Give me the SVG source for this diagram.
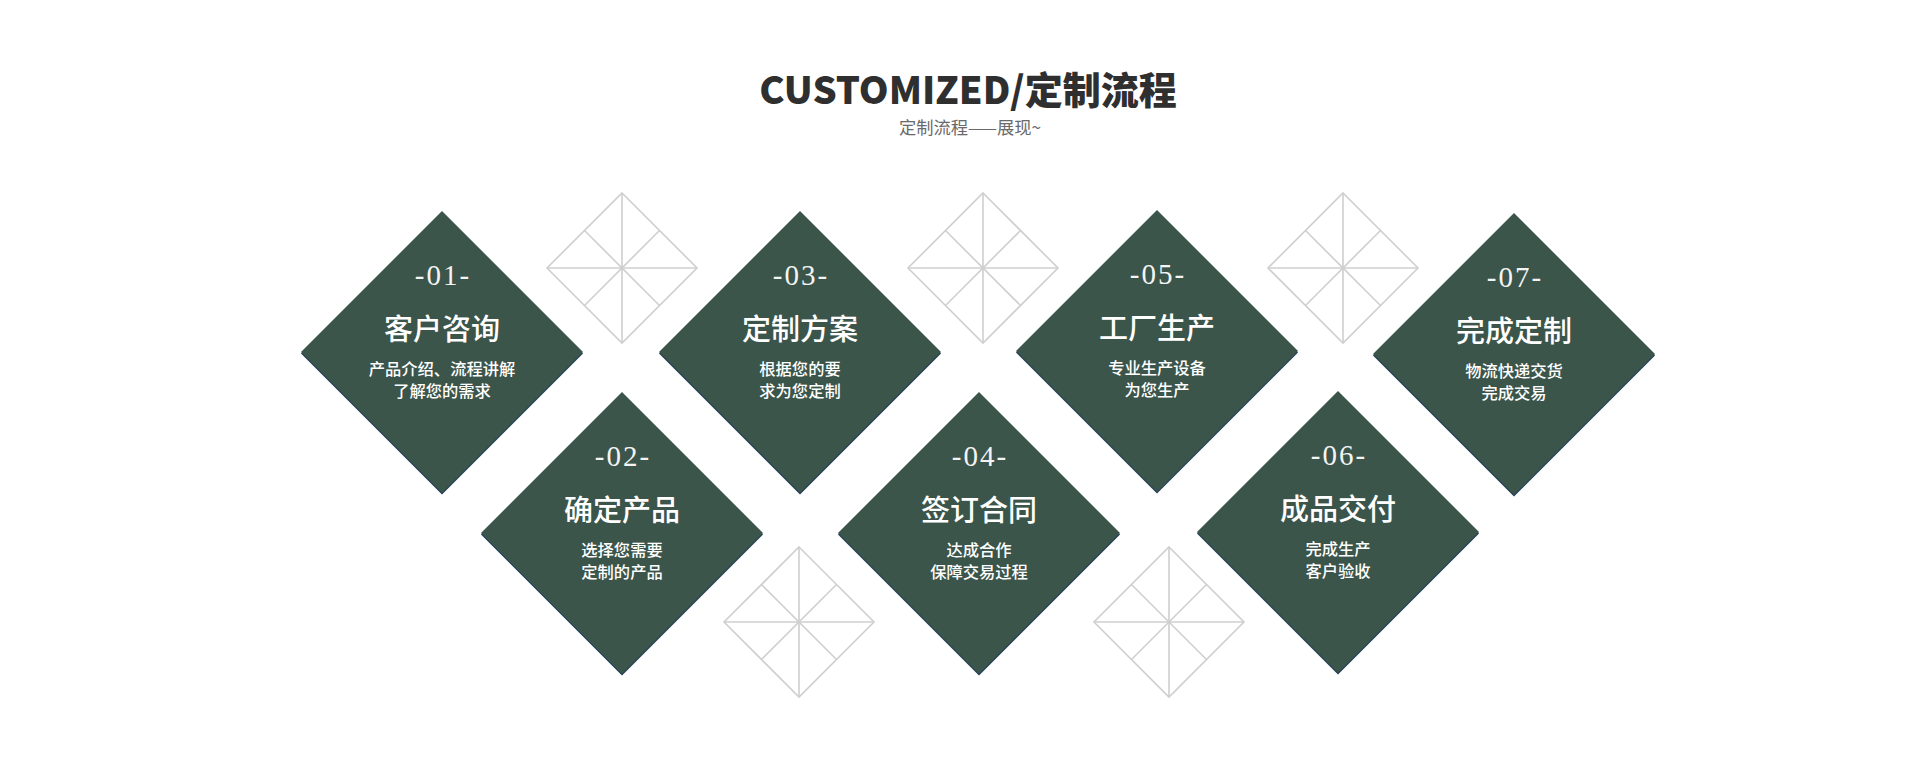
<svg xmlns="http://www.w3.org/2000/svg" xmlns:xlink="http://www.w3.org/1999/xlink" width="1920" height="771" viewBox="0 0 1920 771">
<style>
.bg{fill:#ffffff}
.dia{fill:#3b554b}
.sh{fill:#1d3a55}
.ol{fill:none;stroke:#cfcfcf;stroke-width:1.6}
.num{font-family:"Liberation Serif","DejaVu Serif",serif;font-size:29px;fill:#f4f4f4;text-anchor:middle;letter-spacing:2px}
.ttl{font-family:"Noto Sans CJK SC","Noto Sans",sans-serif;font-size:29px;font-weight:500;fill:#ffffff;text-anchor:middle}
.sub{font-family:"Noto Sans CJK SC","Noto Sans",sans-serif;font-size:16.3px;font-weight:500;fill:#ffffff;text-anchor:middle}
.h1{font-family:"Noto Sans CJK SC","Noto Sans",sans-serif;font-size:38px;font-weight:900;fill:#2f2f2f;text-anchor:middle}
.h2{font-family:"Noto Sans CJK SC","Noto Sans",sans-serif;font-size:17.3px;fill:#6a6a6a;text-anchor:middle}
</style>
<defs>
<polygon id="d" points="0,-141 141,0 0,141 -141,0"/>
<g id="o">
<polygon class="ol" points="0,-75 75,0 0,75 -75,0"/>
<line class="ol" x1="0" y1="-75" x2="0" y2="75"/>
<line class="ol" x1="-75" y1="0" x2="75" y2="0"/>
<line class="ol" x1="-37.5" y1="-37.5" x2="37.5" y2="37.5"/>
<line class="ol" x1="37.5" y1="-37.5" x2="-37.5" y2="37.5"/>
</g>
</defs>
<rect class="bg" x="0" y="0" width="1920" height="771"/>
<g id="header">
<text class="h1" x="968" y="104">CUSTOMIZED/定制流程</text>
<text class="h2" x="970" y="134">定制流程——展现~</text>
</g>
<g id="decorations">
<use xlink:href="#o" href="#o" transform="translate(622,268)"/>
<use xlink:href="#o" href="#o" transform="translate(983,268)"/>
<use xlink:href="#o" href="#o" transform="translate(1343,268)"/>
<use xlink:href="#o" href="#o" transform="translate(799,622)"/>
<use xlink:href="#o" href="#o" transform="translate(1169,622)"/>
</g>
<g id="connectors"></g>
<g id="step1" transform="translate(442,352)">
<use xlink:href="#d" href="#d" class="sh" transform="translate(0,1.5)"/>
<use xlink:href="#d" href="#d" class="dia"/>
<text class="num" x="1" y="-67">-01-</text>
<text class="ttl" x="0" y="-12">客户咨询</text>
<text class="sub" x="0" y="23">产品介绍、流程讲解</text>
<text class="sub" x="0" y="45">了解您的需求</text>
</g>
<g id="step2" transform="translate(622,533)">
<use xlink:href="#d" href="#d" class="sh" transform="translate(0,1.5)"/>
<use xlink:href="#d" href="#d" class="dia"/>
<text class="num" x="1" y="-67">-02-</text>
<text class="ttl" x="0" y="-12">确定产品</text>
<text class="sub" x="0" y="23">选择您需要</text>
<text class="sub" x="0" y="45">定制的产品</text>
</g>
<g id="step3" transform="translate(800,352)">
<use xlink:href="#d" href="#d" class="sh" transform="translate(0,1.5)"/>
<use xlink:href="#d" href="#d" class="dia"/>
<text class="num" x="1" y="-67">-03-</text>
<text class="ttl" x="0" y="-12">定制方案</text>
<text class="sub" x="0" y="23">根据您的要</text>
<text class="sub" x="0" y="45">求为您定制</text>
</g>
<g id="step4" transform="translate(979,533)">
<use xlink:href="#d" href="#d" class="sh" transform="translate(0,1.5)"/>
<use xlink:href="#d" href="#d" class="dia"/>
<text class="num" x="1" y="-67">-04-</text>
<text class="ttl" x="0" y="-12">签订合同</text>
<text class="sub" x="0" y="23">达成合作</text>
<text class="sub" x="0" y="45">保障交易过程</text>
</g>
<g id="step5" transform="translate(1157,351)">
<use xlink:href="#d" href="#d" class="sh" transform="translate(0,1.5)"/>
<use xlink:href="#d" href="#d" class="dia"/>
<text class="num" x="1" y="-67">-05-</text>
<text class="ttl" x="0" y="-12">工厂生产</text>
<text class="sub" x="0" y="23">专业生产设备</text>
<text class="sub" x="0" y="45">为您生产</text>
</g>
<g id="step6" transform="translate(1338,532)">
<use xlink:href="#d" href="#d" class="sh" transform="translate(0,1.5)"/>
<use xlink:href="#d" href="#d" class="dia"/>
<text class="num" x="1" y="-67">-06-</text>
<text class="ttl" x="0" y="-12">成品交付</text>
<text class="sub" x="0" y="23">完成生产</text>
<text class="sub" x="0" y="45">客户验收</text>
</g>
<g id="step7" transform="translate(1514,354)">
<use xlink:href="#d" href="#d" class="sh" transform="translate(0,1.5)"/>
<use xlink:href="#d" href="#d" class="dia"/>
<text class="num" x="1" y="-67">-07-</text>
<text class="ttl" x="0" y="-12">完成定制</text>
<text class="sub" x="0" y="23">物流快递交货</text>
<text class="sub" x="0" y="45">完成交易</text>
</g>
</svg>
